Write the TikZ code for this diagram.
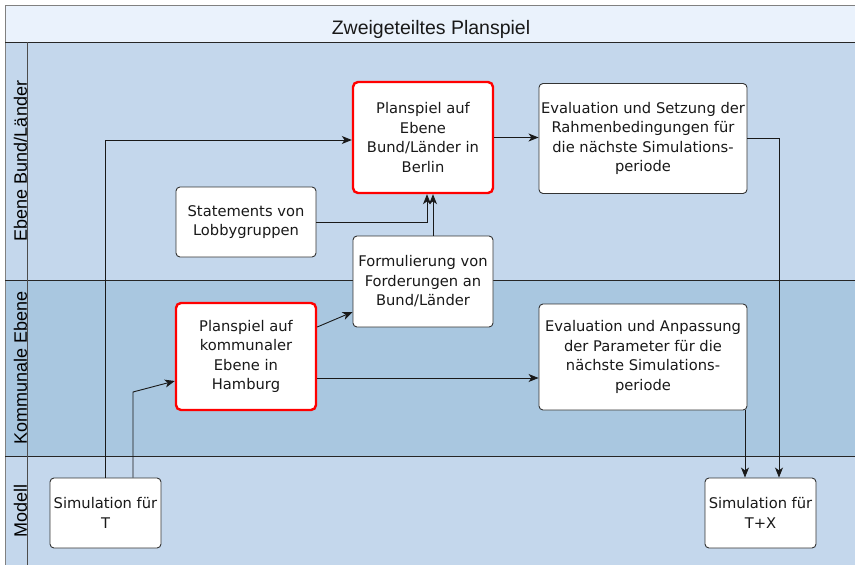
\documentclass[tikz,border=0pt]{standalone}
\usepackage{fontspec}
\setmainfont{DejaVu Sans}
\newfontfamily\lanefont{Liberation Sans}
\usetikzlibrary{arrows.meta,calc}
\definecolor{titlebg}{HTML}{EAF2FC}
\definecolor{laneA}{HTML}{C4D7EC}
\definecolor{laneB}{HTML}{A9C7E0}
\definecolor{framegray}{HTML}{808080}
\begin{document}
\begin{tikzpicture}[x=1pt,y=-1pt,
  stepbox/.style={draw=black!80, line width=0.9pt, rounded corners=4pt, fill=white,
    align=center, inner sep=0pt, text=black!90,
    font=\fontsize{14.7}{19.5}\selectfont},
  keybox/.style={stepbox, draw=red, line width=2.4pt, rounded corners=5pt},
  arr/.style={draw=black!90, line width=0.9pt,
    -{Stealth[length=10pt,width=8pt,inset=2.8pt]}},
  lanelabel/.style={rotate=90, anchor=base, inner sep=0pt,
    font=\lanefont\fontsize{18}{20}\selectfont},
  sep/.style={draw=black!85, line width=1pt}]
\useasboundingbox (0,0) rectangle (855,565);
\fill[white] (0,0) rectangle (855,565);

% pool: title band and three lanes
\fill[titlebg] (5,5) rectangle (860,42);
\fill[laneA] (5,42) rectangle (860,280);
\fill[laneB] (5,280) rectangle (860,456);
\fill[laneA] (5,456) rectangle (860,570);
\draw[framegray, line width=1pt] (5,570) -- (5,5) -- (860,5);
\draw[sep] (5,42) -- (860,42);
\draw[sep] (5,280) -- (860,280);
\draw[sep] (5,456) -- (860,456);
\draw[draw=black!70, line width=1pt] (27,42) -- (27,570);

\node[font=\lanefont\fontsize{19.5}{22}\selectfont, text=black!90] (title) at (431,29) {Zweigeteiltes Planspiel};
\node[lanelabel] (laneBund) at (27,161) {Ebene Bund/Länder};
\node[lanelabel] (laneKomm) at (27,368) {Kommunale Ebene};
\node[lanelabel] (laneModell) at (27,511) {Modell};

% process steps
\node[keybox, minimum width=140pt, minimum height=111pt] (berlin) at (423,137.5)
  {Planspiel auf\\Ebene\\Bund/Länder in\\Berlin};
\node[stepbox, minimum width=208pt, minimum height=110pt] (evalS) at (643,138.5)
  {Evaluation und Setzung der\\Rahmenbedingungen für\\die nächste Simulations-\\periode};
\node[stepbox, minimum width=140pt, minimum height=70pt] (lobby) at (246,222)
  {Statements von\\Lobbygruppen};
\node[stepbox, minimum width=140pt, minimum height=91pt] (ford) at (423,281.5)
  {Formulierung von\\Forderungen an\\Bund/Länder};
\node[keybox, minimum width=140pt, minimum height=107pt] (hamburg) at (246,356.5)
  {Planspiel auf\\kommunaler\\Ebene in\\Hamburg};
\node[stepbox, minimum width=208pt, minimum height=106pt] (evalA) at (643,357)
  {Evaluation und Anpassung\\der Parameter für die\\nächste Simulations-\\periode};
\node[stepbox, minimum width=111pt, minimum height=70pt] (simT) at (105.5,513)
  {Simulation für\\T};
\node[stepbox, minimum width=111pt, minimum height=70pt] (simTX) at (760.5,513)
  {Simulation für\\T+X};

% connectors
\coordinate (bend) at (133,392);
\draw[arr] (simT.north) |- ([yshift=-2.5pt]berlin.west);
\draw[arr] ([xshift=27.5pt]simT.north) -- (bend) -- ([yshift=-24.5pt]hamburg.west);
\draw[arr] (lobby.east) -| ([xshift=4pt]berlin.south);
\draw[arr] ([xshift=10pt]ford.north) -- ([xshift=10pt]berlin.south);
\draw[arr] ([yshift=29.5pt]hamburg.east) -- ([yshift=-30.5pt]ford.west);
\draw[arr] ([yshift=-21.5pt]hamburg.east) -- ([yshift=-21.5pt]hamburg.east -| evalA.west);
\draw[arr] (berlin.east) -- (berlin.east -| evalS.west);
\draw[arr] (evalS.east) -| ([xshift=18.5pt]simTX.north);
\draw[arr] ([xshift=-15.5pt]simTX.north |- evalA.south) -- ([xshift=-15.5pt]simTX.north);
\end{tikzpicture}
\end{document}
